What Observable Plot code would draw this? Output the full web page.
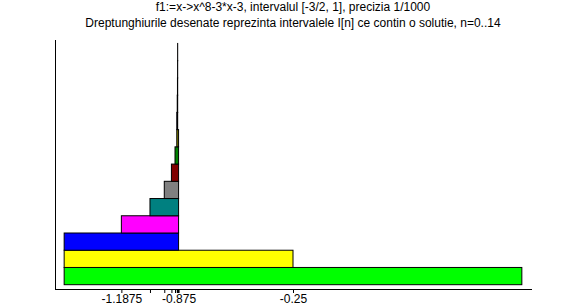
<!DOCTYPE html>
<html>
<head>
<meta charset="utf-8">
<script src="https://cdn.jsdelivr.net/npm/d3@7"></script>
<script src="https://cdn.jsdelivr.net/npm/@observablehq/plot@0.6"></script>
<style>
  body { margin: 0; background: #fff; }
  #wrap { position: relative; width: 586px; height: 308px; overflow: hidden; }
  .t { position: absolute; left: 0; width: 586px; text-align: center; font: 12px "Liberation Sans", Arial, sans-serif; color: #000; white-space: nowrap; }
  #chart { position: absolute; left: 0; top: 0; }
</style>
</head>
<body>
<div id="wrap">
  <div id="chart"></div>
  <div class="t" style="top:0px">f1:=x-&gt;x^8-3*x-3, intervalul [-3/2, 1], precizia 1/1000</div>
  <div class="t" style="top:16px">Dreptunghiurile desenate reprezinta intervalele I[n] ce contin o solutie, n=0..14</div>
</div>
<script>
// bisection intervals I[n] = [a, b]
const level = [0, 1, 2, 3, 4, 5, 6, 7, 8, 9, 10, 11, 12, 13];
const left = [-1.5, -1.5, -1.5, -1.1875, -1.03125, -0.953125, -0.9140625, -0.89453125,
  -0.884765625, -0.884765625, -0.88232421875, -0.881103515625, -0.8804931640625, -0.88018798828125];
const right = [1, -0.25, -0.875, -0.875, -0.875, -0.875, -0.875, -0.875,
  -0.875, -0.8798828125, -0.8798828125, -0.8798828125, -0.8798828125, -0.8798828125];
const colors = ["#00ff00", "#ffff00", "#0000ff", "#ff00ff", "#008080", "#808080", "#800000",
  "#008000", "#808000", "#000080", "#800080", "#008080", "#808080", "#800000"];
// bisection midpoints (tick positions) and their labels
const tickValues = [-0.25, -0.875, -1.1875, -1.03125, -0.953125, -0.9140625, -0.89453125,
  -0.884765625, -0.8798828125, -0.88232421875, -0.881103515625, -0.8804931640625,
  -0.88018798828125, -0.880035400390625];
const tickLabels = ["-0.25", "-0.875", "-1.1875"];

const rects = level.map((n, i) => ({n, a: left[i], b: right[i], c: colors[i]}));
const labelOf = new Map(tickLabels.map((s, i) => [tickValues[i], s]));

const chart = Plot.plot({
  width: 586,
  height: 308,
  marginLeft: 55,
  marginRight: 55,
  marginTop: 40,
  marginBottom: 19,
  style: {fontFamily: "'Liberation Sans', Arial, sans-serif", fontSize: "12px", background: "#fff"},
  x: {domain: [-1.55, 1.05]},
  y: {domain: [-0.25, 14.2], axis: null},
  marks: [
    Plot.rect(rects, {x1: "a", x2: "b", y1: "n", y2: d => d.n + 1, fill: "c", stroke: "#000", strokeWidth: 1}),
    Plot.frame({anchor: "bottom", stroke: "#000", strokeWidth: 1}),
    Plot.frame({anchor: "left", stroke: "#000", strokeWidth: 1}),
    Plot.axisX({ticks: tickValues, tickSize: 4, tickPadding: 1, label: null,
      tickFormat: v => labelOf.get(v) ?? "", fontSize: 12, stroke: "#000", color: "#000"})
  ]
});
document.getElementById("chart").appendChild(chart);
</script>
</body>
</html>
